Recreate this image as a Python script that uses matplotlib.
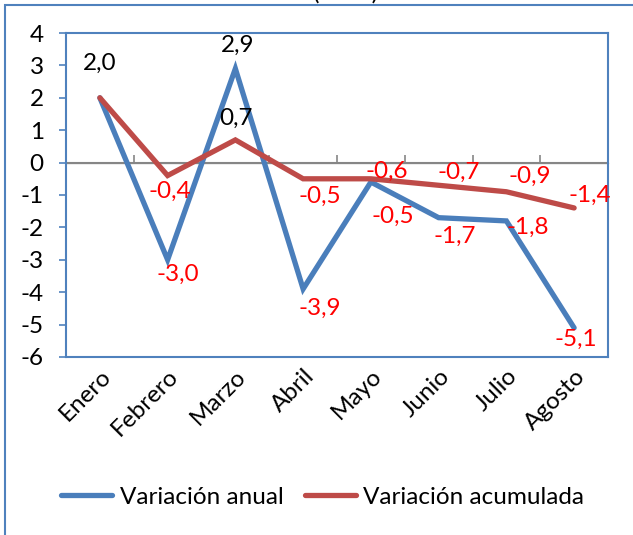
import matplotlib
matplotlib.use("Agg")
import matplotlib.pyplot as plt
from matplotlib.patches import Rectangle

# Datos
meses = ["Enero", "Febrero", "Marzo", "Abril", "Mayo", "Junio", "Julio", "Agosto"]
var_anual = [2.0, -3.0, 2.9, -3.9, -0.6, -1.7, -1.8, -5.1]
var_acumulada = [2.0, -0.4, 0.7, -0.5, -0.5, -0.7, -0.9, -1.4]
y_ticks = [4, 3, 2, 1, 0, -1, -2, -3, -4, -5, -6]

# label offsets in pixels (dx, dy up); None = no label
off_anual = [(0, 34), (10, -15), (2, 23), (17, -19), (16, 11), (16, -19), (21, -6), (2, -12)]
off_acum = [None, (2, -16), (1, 22), (17, -18), (22, -38), (20, 13), (23, 15), (16, 13)]

plt.rcParams['font.family'] = ['Lato', 'DejaVu Sans']
fs = 17.5

blue = '#4A7EBB'
red = '#BE4B48'
frame = '#4F81BD'

fig = plt.figure(figsize=(6.33, 5.35), dpi=100)
ax = fig.add_axes([66/633, 1 - 357/535, 542/633, 324/535])

x = list(range(len(meses)))
ax.plot(x, var_anual, color=blue, lw=3.8, solid_capstyle='round', solid_joinstyle='miter',
        label='Variación anual', zorder=3)
ax.plot(x, var_acumulada, color=red, lw=3.8, solid_capstyle='round', solid_joinstyle='miter',
        label='Variación acumulada', zorder=3)

def etiqueta(v):
    return f"{v:.1f}".replace('.', ',')

for vals, offs in ((var_anual, off_anual), (var_acumulada, off_acum)):
    for i, v in enumerate(vals):
        if offs[i] is None:
            continue
        ax.annotate(etiqueta(v), (i, v), xytext=offs[i], textcoords='offset pixels',
                    ha='center', va='center', fontsize=fs,
                    color='black' if v > 0 else '#FF0000', zorder=4)

ax.set_xlim(-0.5, len(meses) - 0.5)
ax.set_ylim(-6, 4)
ax.set_yticks(y_ticks)
ax.set_yticklabels([str(t) for t in y_ticks], fontsize=fs)
ax.tick_params(axis='y', length=5, width=1.2, color=frame, pad=11)
for s in ax.spines.values():
    s.set_color(frame)
    s.set_linewidth(1.5)

# category labels at the bottom, no tick marks there
ax.set_xticks(x)
ax.set_xticklabels(meses, rotation=45, ha='right', va='top', rotation_mode='anchor', fontsize=fs)
ax.tick_params(axis='x', length=0, pad=6)

# horizontal axis crossing at zero with ticks between categories
ax.axhline(0, color='#868686', lw=1.5, zorder=2)
sec = ax.secondary_xaxis(0.6)
sec.set_xticks([i - 0.5 for i in range(1, len(meses))])
sec.set_xticklabels([])
sec.tick_params(axis='x', direction='out', length=6, width=1.2, color='#868686')
sec.spines['bottom'].set_visible(False)

fig.legend(loc='center', bbox_to_anchor=(0.51, 1 - 497/535), ncol=2, frameon=False,
           fontsize=fs, handlelength=2.1, handletextpad=0.3, columnspacing=0.9)

# outer chart border and clipped title
fig.patches.append(Rectangle((5/633, -0.1), 1.2, 1 - 5/535 + 0.1, transform=fig.transFigure,
                             fill=False, edgecolor=frame, lw=1.5))
fig.text(346/633, 1.0, "(en %)", ha='center', va='baseline', fontsize=fs)

fig.savefig("out.png", dpi=100)
